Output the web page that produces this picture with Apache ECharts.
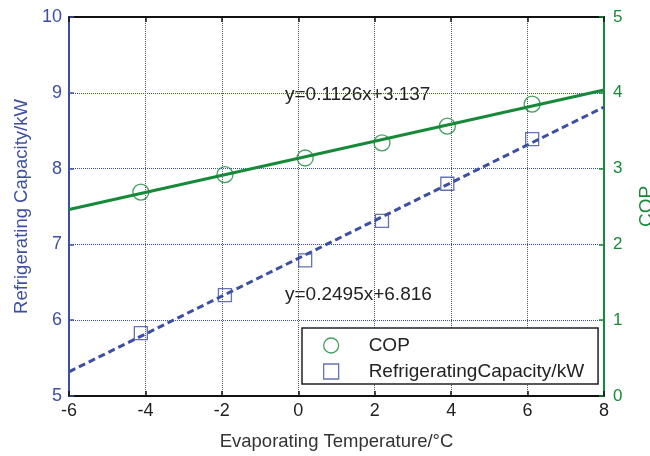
<!DOCTYPE html>
<html>
<head>
<meta charset="utf-8">
<script src="https://cdn.jsdelivr.net/npm/echarts@6/dist/echarts.min.js"></script>
<style>
  html, body { margin: 0; padding: 0; background: #fff; }
  #chart { width: 650px; height: 456px; }
</style>
</head>
<body>
<div id="chart"></div>
<script>
// Evaporating temperature (°C) for each measured point
const temperatures = [-4.12, -1.92, 0.18, 2.19, 3.9, 6.12];
// Measured COP (right axis)
const copValues = [2.69, 2.92, 3.14, 3.34, 3.56, 3.85];
// Measured refrigerating capacity in kW (left axis)
const capacityValues = [5.83, 6.33, 6.79, 7.31, 7.80, 8.39];

// Linear fits printed on the chart: [slope, intercept]
const copFit = [0.1126, 3.137];
const capacityFit = [0.2495, 6.816];
// Temperature range covered by the fit lines
const fitRange = [-6, 8];

const BLUE = '#3d4fa3';
const GREEN = '#178a3a';
const FONT = '"Liberation Sans", Arial, Helvetica, sans-serif';

const pairs = (xs, ys) => xs.map((x, i) => [x, ys[i]]);
const fitLine = (c) => fitRange.map(x => [x, c[0] * x + c[1]]);
const eqText = (c) => 'y=' + c[0] + 'x+' + c[1];

const chart = echarts.init(document.getElementById('chart'), null, { renderer: 'canvas' });

chart.setOption({
  animation: false,
  backgroundColor: '#fff',
  textStyle: { fontFamily: FONT },
  grid: { left: 69, right: 46, top: 17, bottom: 60, containLabel: false, outerBoundsMode: 'none' },
  xAxis: [{
    type: 'value', min: -6, max: 8, interval: 2,
    name: 'Evaporating Temperature/°C', nameLocation: 'middle', nameGap: 36,
    nameTextStyle: { color: '#333', fontSize: 18.5, fontFamily: FONT },
    axisLine: { show: true, onZero: false, lineStyle: { color: '#111', width: 2 } },
    axisTick: { show: true, inside: true, length: 5, lineStyle: { color: '#111', width: 1.5 } },
    axisLabel: { color: '#222', fontSize: 18, margin: 6, fontFamily: FONT },
    splitLine: { show: true, lineStyle: { color: '#555', type: 'dotted', width: 1 } }
  }, {
    type: 'value', min: -6, max: 8, interval: 2, position: 'top',
    axisLine: { show: true, onZero: false, lineStyle: { color: '#111', width: 2 } },
    axisTick: { show: true, inside: true, length: 5, lineStyle: { color: '#111', width: 1.5 } },
    axisLabel: { show: false },
    splitLine: { show: false }
  }],
  yAxis: [{
    type: 'value', min: 5, max: 10, interval: 1, position: 'left',
    name: 'Refrigerating Capacity/kW', nameLocation: 'middle', nameGap: 37, nameRotate: 90,
    nameTextStyle: { color: BLUE, fontSize: 18.5, fontFamily: FONT },
    axisLine: { show: true, onZero: false, lineStyle: { color: BLUE, width: 2 } },
    axisTick: { show: true, inside: true, length: 5, lineStyle: { color: BLUE, width: 1.5 } },
    axisLabel: { color: BLUE, fontSize: 18, margin: 7, fontFamily: FONT },
    splitLine: { show: true, lineStyle: { color: BLUE, type: 'dotted', width: 1 } }
  }, {
    type: 'value', min: 0, max: 5, interval: 1, position: 'right',
    name: 'COP', nameLocation: 'middle', nameGap: 33, nameRotate: 90,
    nameTextStyle: { color: GREEN, fontSize: 19, fontFamily: FONT },
    axisLine: { show: true, onZero: false, lineStyle: { color: GREEN, width: 2 } },
    axisTick: { show: true, inside: true, length: 5, lineStyle: { color: GREEN, width: 1.5 } },
    axisLabel: { color: GREEN, fontSize: 17, margin: 9, fontFamily: FONT },
    splitLine: { show: false }
  }],
  legend: {
    orient: 'vertical', left: 302, top: 328,
    padding: [8, 14, 3, 21], itemGap: 7,
    itemWidth: 15, itemHeight: 15,
    backgroundColor: '#fff', borderColor: '#222', borderWidth: 1.5, borderRadius: 0,
    textStyle: { color: '#222', fontSize: 19, fontFamily: FONT, padding: [0, 0, 0, 25], lineHeight: 15 },
    data: [
      { name: 'COP', icon: 'circle',
        itemStyle: { color: 'rgba(0,0,0,0)', borderColor: GREEN, borderWidth: 1.3 } },
      { name: 'RefrigeratingCapacity/kW', icon: 'rect',
        itemStyle: { color: 'rgba(0,0,0,0)', borderColor: BLUE, borderWidth: 1.3 } }
    ]
  },
  graphic: [
    { type: 'text', left: 285, top: 85, silent: true,
      style: { text: eqText(copFit), fill: '#222', font: '19px ' + FONT } },
    { type: 'text', left: 285, top: 285, silent: true,
      style: { text: eqText(capacityFit), fill: '#222', font: '19px ' + FONT } }
  ],
  series: [
    {
      name: 'COP fit', type: 'line', xAxisIndex: 0, yAxisIndex: 1, data: fitLine(copFit),
      symbol: 'none', lineStyle: { color: GREEN, width: 3 }, z: 3
    },
    {
      name: 'Capacity fit', type: 'line', xAxisIndex: 0, yAxisIndex: 0, data: fitLine(capacityFit),
      symbol: 'none', lineStyle: { color: BLUE, width: 3, type: [7, 4] }, z: 3
    },
    {
      name: 'COP', type: 'scatter', xAxisIndex: 0, yAxisIndex: 1, data: pairs(temperatures, copValues),
      symbol: 'circle', symbolSize: 16,
      itemStyle: { color: 'rgba(0,0,0,0)', borderColor: GREEN, borderWidth: 1.3 }, z: 4
    },
    {
      name: 'RefrigeratingCapacity/kW', type: 'scatter', xAxisIndex: 0, yAxisIndex: 0,
      data: pairs(temperatures, capacityValues),
      symbol: 'rect', symbolSize: 13,
      itemStyle: { color: 'rgba(0,0,0,0)', borderColor: BLUE, borderWidth: 1.3 }, z: 4
    }
  ]
});
</script>
</body>
</html>
